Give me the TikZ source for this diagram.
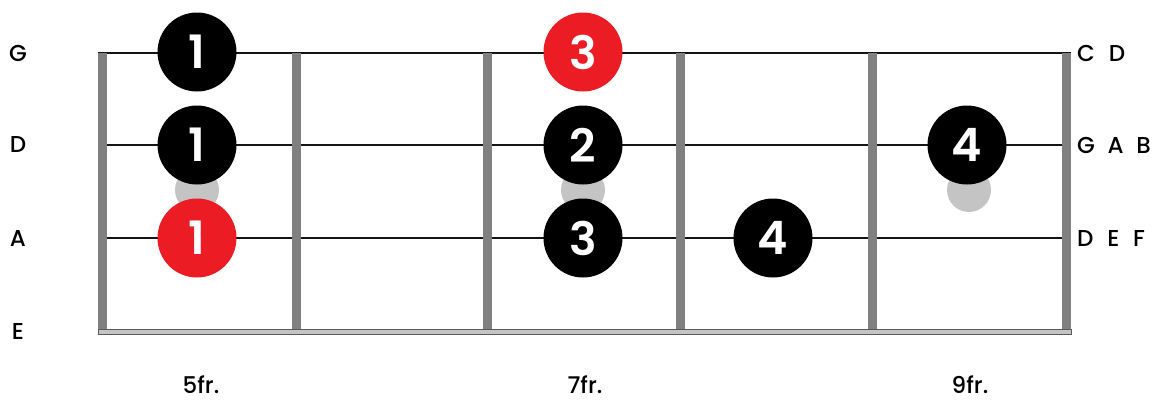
\documentclass[tikz,border=0pt]{standalone}
\usepackage{fontspec}
\setmainfont{Poppins}
\newfontfamily\digitfont{Poppins SemiBold}
\newfontfamily\namefont{Poppins Medium}
\usetikzlibrary{positioning}
\definecolor{fretgray}  {RGB}{128, 128, 128}
\definecolor{rootred}   {RGB}{236,  28,  36}
\definecolor{ghostgray} {RGB}{196, 196, 196}
\definecolor{stringdark}{RGB}{ 20,  20,  20}

\begin{document}
\begin{tikzpicture}[x=1pt,y=-1pt,
	finger/.style={circle,fill=black,text=white,minimum size=79pt,inner sep=0pt,
		font=\fontsize{46}{46}\digitfont},
	root/.style={finger,fill=rootred},
	ghost/.style={circle,fill=ghostgray,minimum size=44pt,inner sep=0pt},
	label/.style={inner sep=0pt,font=\fontsize{23}{23}\namefont},
	notes/.style={label,anchor=west},
	fret/.style={fretgray,line width=9pt}]
	\useasboundingbox (0,0) rectangle (1164,400);
	\draw[stringdark,line width=1.5pt] (98,53)--(1071,53);
	\draw[stringdark,line width=1.5pt] (98,145)--(1071,145);
	\draw[stringdark,line width=1.5pt] (98,238)--(1071,238);
	\draw[fret] (102.5,53)--(102.5,330);
	\draw[fret] (296,53)--(296,330);
	\draw[fret] (487,53)--(487,330);
	\draw[fret] (680,53)--(680,330);
	\draw[fret] (872,53)--(872,330);
	\draw[fret] (1066,53)--(1066,330);
	\draw[draw=fretgray!70!black,fill=ghostgray,line width=0.8pt] (98,329) rectangle (1071,334);
	% shadow dots
	\node[ghost] (gh5) at (197,190) {};
	\node[ghost] (gh7) at (583,190) {};
	\node[ghost] (gh9) at (969,190) {};
	% fingering
	\node[finger] (g5) at (197,52) {1};
	\node[finger] (d5) at (197,145) {1};
	\node[root]   (a5) at (197,238) {1};
	\node[root]   (g7) at (583,52) {3};
	\node[finger] (d7) at (583,145) {2};
	\node[finger] (a7) at (583,238) {3};
	\node[finger] (a8) at (773,238) {4};
	\node[finger] (d9) at (967,145) {4};
	% string names
	\node[label] (sG) at (18,53) {G};
	\node[label] (sD) at (18,145) {D};
	\node[label] (sA) at (18,238) {A};
	\node[label] (sE) at (18,331) {E};
	\node[notes] (nG) at (1077,53) {C\hspace{0.6em}D};
	\node[notes] (nD) at (1077,145) {G\hspace{0.55em}A\hspace{0.55em}B};
	\node[notes] (nA) at (1077,238) {D\hspace{0.6em}E\hspace{0.6em}F};
	% fret numbers
	\node[label] (f5) at (201,385) {5fr.};
	\node[label] (f7) at (585,385) {7fr.};
	\node[label] (f9) at (970,385) {9fr.};
\end{tikzpicture}
\end{document}
